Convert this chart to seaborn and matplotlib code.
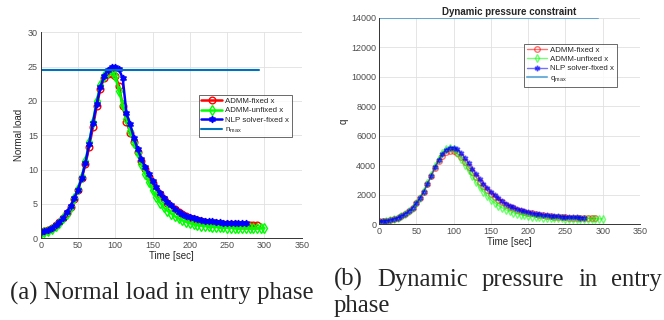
import numpy as np
import pandas as pd
import matplotlib
matplotlib.use('Agg')
import matplotlib.pyplot as plt
import seaborn as sns

# ---- data ----
t_fixed = list(range(0, 295, 5))        # ADMM-fixed x, 0..290
t_unfixed = list(range(0, 305, 5))      # ADMM-unfixed x, 0..300
t_nlp = list(range(0, 280, 5))          # NLP solver-fixed x, 0..275

n_fixed = [0.9, 1.0, 1.2, 1.5, 1.9, 2.4, 3.0, 3.7, 4.6, 5.7, 7.0, 8.8, 10.8, 13.3, 16.2, 19.2,
           21.8, 23.4, 23.9, 24.0, 23.6, 22.2, 19.2, 17.0, 15.4, 14.0, 12.6, 11.3, 10.1, 9.0,
           8.0, 7.1, 6.4, 5.7, 5.1, 4.6, 4.2, 3.8, 3.5, 3.2, 3.0, 2.8, 2.65, 2.5, 2.4, 2.3,
           2.25, 2.2, 2.15, 2.1, 2.1, 2.05, 2.05, 2.0, 2.0, 2.0, 2.0, 2.0, 2.0]
n_unfixed = [0.8, 0.9, 1.1, 1.4, 1.8, 2.3, 2.9, 3.6, 4.6, 5.8, 7.2, 9.0, 11.2, 14.0, 17.0, 20.0,
             22.3, 23.6, 24.2, 24.3, 23.6, 21.5, 19.4, 17.4, 15.6, 13.9, 12.4, 10.8, 9.4, 8.2,
             7.0, 6.0, 5.2, 4.5, 4.0, 3.6, 3.2, 2.9, 2.6, 2.4, 2.2, 2.05, 1.95, 1.85, 1.8, 1.75,
             1.7, 1.65, 1.6, 1.6, 1.55, 1.55, 1.5, 1.5, 1.5, 1.5, 1.5, 1.5, 1.5, 1.5, 1.5]
n_nlp = [0.9, 1.0, 1.2, 1.5, 1.9, 2.4, 3.0, 3.8, 4.7, 5.8, 7.1, 8.8, 11.0, 13.8, 16.8, 19.6,
         22.0, 23.6, 24.5, 25.0, 24.9, 24.6, 23.3, 18.2, 16.6, 14.6, 13.0, 11.6, 10.4, 9.3,
         8.3, 7.4, 6.6, 5.9, 5.3, 4.8, 4.3, 3.9, 3.6, 3.3, 3.1, 2.9, 2.8, 2.65, 2.55, 2.5,
         2.45, 2.4, 2.35, 2.3, 2.3, 2.25, 2.25, 2.2, 2.2, 2.2]
n_max = 24.5

q_fixed = [200, 210, 240, 290, 360, 450, 570, 720, 900, 1130, 1420, 1770, 2200, 2700, 3250, 3800,
           4300, 4650, 4900, 5000, 4950, 4800, 4550, 4250, 3900, 3550, 3200, 2880, 2580, 2300,
           2080, 1850, 1650, 1480, 1330, 1200, 1090, 990, 910, 840, 790, 740, 690, 650, 610,
           580, 550, 525, 505, 485, 470, 460, 450, 440, 430, 420, 410, 400, 395]
q_unfixed = [180, 190, 220, 270, 340, 430, 550, 700, 890, 1130, 1430, 1800, 2250, 2780, 3350, 3950,
             4450, 4850, 5100, 5200, 5100, 4800, 4450, 4050, 3650, 3250, 2850, 2500, 2200, 1900,
             1650, 1450, 1270, 1120, 990, 880, 790, 710, 650, 600, 550, 520, 490, 470, 450,
             430, 420, 410, 400, 395, 390, 385, 380, 380, 375, 375, 370, 370, 370, 370, 370]
q_nlp = [200, 210, 240, 290, 360, 450, 570, 720, 900, 1130, 1420, 1780, 2220, 2750, 3300, 3850,
         4350, 4750, 5050, 5200, 5200, 5100, 4850, 4500, 4150, 3780, 3420, 3080, 2760, 2470,
         2210, 1970, 1760, 1570, 1410, 1270, 1150, 1050, 960, 890, 830, 770, 720, 680, 640,
         610, 580, 560, 540, 520, 500, 490, 480, 470, 460, 450]
q_max = 14000
limit_end = 293

labels = ['ADMM-fixed x', 'ADMM-unfixed x', 'NLP solver-fixed x']
caption_a = '(a) Normal load in entry phase'
caption_b = ['(b)', 'Dynamic', 'pressure', 'in', 'entry']
caption_b2 = 'phase'

sns.set_style('white')
plt.rcParams['font.family'] = ['Liberation Sans', 'DejaVu Sans']
plt.rcParams['mathtext.fontset'] = 'custom'
plt.rcParams['mathtext.rm'] = 'Liberation Sans'
plt.rcParams['mathtext.it'] = 'Liberation Sans'

fig = plt.figure(figsize=(6.64, 3.2), dpi=100)
ax1 = fig.add_axes([0.0613, 0.2553, 0.3931, 0.6437])
ax2 = fig.add_axes([0.5708, 0.2990, 0.3931, 0.6457])

star6 = (6, 1, 0)
styles = [
    dict(color=(1, 0, 0), marker='o', mfc='none'),
    dict(color=(0, 1, 0), marker='d', mfc='none'),
    dict(color=(0, 0, 1), marker=star6, mfc=(0, 0, 1)),
]
mblue = (0, 0.447, 0.741)


def draw(ax, series, limit, lw, ms, alpha, lim_alpha):
    for (t, y), lab, st in zip(series, labels, styles):
        df = pd.DataFrame({'t': t, 'y': y})
        sns.lineplot(data=df, x='t', y='y', ax=ax, color=st['color'], marker=st['marker'],
                     markersize=ms, markerfacecolor=st['mfc'], markeredgecolor=st['color'],
                     markeredgewidth=1.0, linewidth=lw, alpha=alpha, label=lab)
    lim_df = pd.DataFrame({'t': [0, limit_end], 'y': [limit, limit]})
    sns.lineplot(data=lim_df, x='t', y='y', ax=ax, color=mblue, linewidth=1.5,
                 alpha=lim_alpha, label='limit')


draw(ax1, [(t_fixed, n_fixed), (t_unfixed, n_unfixed), (t_nlp, n_nlp)], n_max, 1.8, 4.8, 1.0, 1.0)
draw(ax2, [(t_fixed, q_fixed), (t_unfixed, q_unfixed), (t_nlp, q_nlp)], q_max, 1.0, 4.0, 0.55, 0.55)

for ax in (ax1, ax2):
    ax.set_xlim(0, 350)
    ax.set_xticks(range(0, 351, 50))
    ax.grid(True, color=(0.88, 0.88, 0.88), linewidth=0.6)
    ax.set_axisbelow(True)
    ax.tick_params(direction='in', length=2, width=0.6, labelsize=6.5,
                   colors=(0.3, 0.3, 0.3), pad=2)
    for s in ('top', 'right'):
        ax.spines[s].set_visible(False)
    for s in ('left', 'bottom'):
        ax.spines[s].set_color((0.2, 0.2, 0.2))
        ax.spines[s].set_linewidth(0.7)
    ax.set_xlabel('Time [sec]', fontsize=7, color=(0.15, 0.15, 0.15), labelpad=1)

ax1.set_ylim(0, 30)
ax1.set_yticks(range(0, 31, 5))
ax1.set_ylabel('Normal load', fontsize=7, color=(0.15, 0.15, 0.15), labelpad=3)
ax2.set_ylim(0, 14000)
ax2.set_yticks(range(0, 14001, 2000))
ax2.set_ylabel('q', fontsize=7, color=(0.15, 0.15, 0.15), labelpad=2)
ax2.set_title('Dynamic pressure constraint', fontsize=7, fontweight='bold', pad=2)

for ax, sym, box in ((ax1, 'n', (0.605, 0.49)), (ax2, 'q', (0.555, 0.665))):
    h, l = ax.get_legend_handles_labels()
    l = labels + ['$\\mathregular{' + sym + '_{max}}$']
    leg = ax.legend(h[:4], l, loc='lower left', bbox_to_anchor=box, fontsize=5.7,
                    frameon=True, fancybox=False, edgecolor=(0.15, 0.15, 0.15),
                    handlelength=2.6, handletextpad=0.35, borderpad=0.35,
                    labelspacing=0.22, borderaxespad=0)
    leg.get_frame().set_linewidth(0.6)

# captions; line (b) is justified between x=334 and x=662 px
serif = ['Liberation Serif', 'DejaVu Serif']
fs = 17.8
fig.text(10 / 664, 0.0625, caption_a, fontsize=fs, family=serif, ha='left', va='baseline')
fig.text(334 / 664, 0.026, caption_b2, fontsize=fs, family=serif, ha='left', va='baseline')

renderer = fig.canvas.get_renderer()
words = [fig.text(0, 0.107, w, fontsize=fs, family=serif, ha='left', va='baseline')
         for w in caption_b]
widths = [w.get_window_extent(renderer).width for w in words]
x0, x1 = 334, 662
gap = ((x1 - x0) - sum(widths)) / (len(words) - 1)
x = x0
for w, wd in zip(words, widths):
    w.set_x(x / 664)
    x += wd + gap

fig.savefig('out.png', dpi=100)
